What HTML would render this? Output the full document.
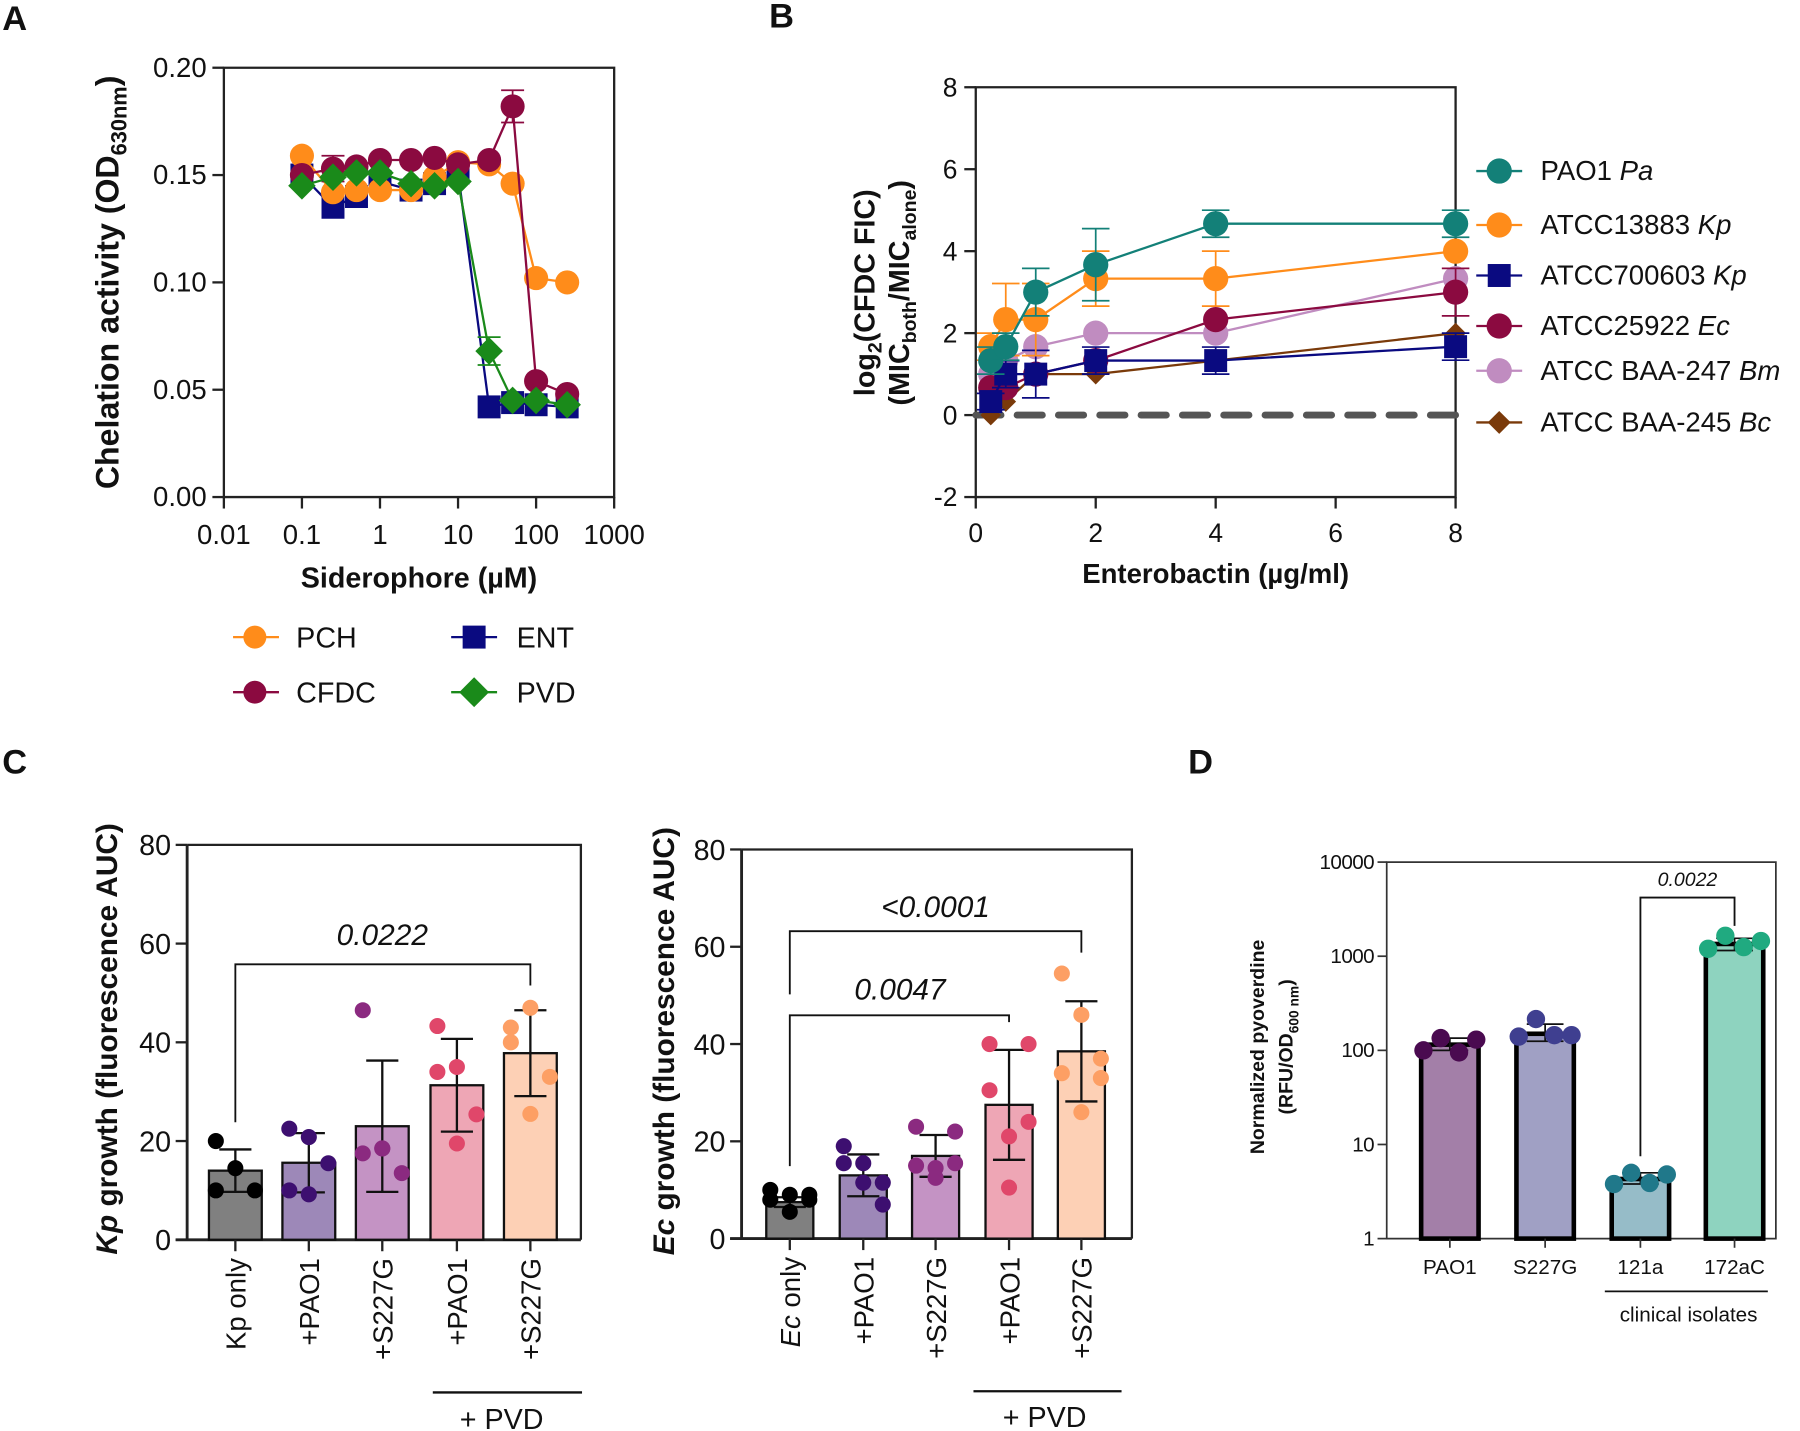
<!DOCTYPE html>
<html><head><meta charset="utf-8">
<style>
html,body{margin:0;padding:0;background:#fff;}
svg{display:block;font-family:"Liberation Sans",Arial,sans-serif;}
.t{font-size:22px;fill:#111;}
.bt{font-weight:bold;fill:#111;}
</style></head>
<body>
<svg id="fig" width="1800" height="1431" viewBox="0 0 1568 1246.6" xmlns="http://www.w3.org/2000/svg">
<rect x="0" y="0" width="1568" height="1247" fill="#fff"/>
<text x="2" y="26" font-size="30" class="bt">A</text>
<text x="670" y="24" font-size="30" class="bt">B</text>
<text x="2" y="674" font-size="30" class="bt">C</text>
<text x="1035" y="674" font-size="30" class="bt">D</text>

<g>
<path d="M195 59 H535 V433 H195 Z" fill="none" stroke="#222" stroke-width="2"/>
<text transform="translate(103,246) rotate(-90)" text-anchor="middle" font-size="28" class="bt">Chelation activity (OD<tspan font-size="19" dy="7">630nm</tspan><tspan dy="-7">)</tspan></text>
<text x="365" y="512" text-anchor="middle" font-size="25" class="bt">Siderophore (µM)</text>
<g id="gA"></g>
<g>
<line x1="203" y1="555" x2="243" y2="555" stroke="#ff8c1a" stroke-width="2"/><circle cx="222" cy="555" r="10" fill="#ff8c1a"/>
<text x="258" y="564" font-size="25" fill="#111">PCH</text>
<line x1="203" y1="603" x2="243" y2="603" stroke="#8b0a40" stroke-width="2"/><circle cx="222" cy="603" r="10" fill="#8b0a40"/>
<text x="258" y="612" font-size="25" fill="#111">CFDC</text>
<line x1="393" y1="555" x2="433" y2="555" stroke="#0a0a80" stroke-width="2"/><rect x="403" y="545" width="20" height="20" fill="#0a0a80"/>
<text x="450" y="564" font-size="25" fill="#111">ENT</text>
<line x1="393" y1="603" x2="433" y2="603" stroke="#1a8a1a" stroke-width="2"/><path d="M413 590 L426 603 L413 616 L400 603Z" fill="#1a8a1a"/>
<text x="450" y="612" font-size="25" fill="#111">PVD</text>
</g>
</g>

<g>
<path d="M850 76 H1268 V433 H850 Z" fill="none" stroke="#222" stroke-width="2"/>
<text transform="translate(762,255) rotate(-90)" text-anchor="middle" font-size="25" class="bt">log<tspan font-size="17" dy="6">2</tspan><tspan dy="-6">(CFDC FIC)</tspan></text>
<text transform="translate(792,255) rotate(-90)" text-anchor="middle" font-size="25" class="bt">(MIC<tspan font-size="17" dy="6">both</tspan><tspan dy="-6">/MIC</tspan><tspan font-size="17" dy="6">alone</tspan><tspan dy="-6">)</tspan></text>
<text x="1059" y="508" text-anchor="middle" font-size="24" class="bt">Enterobactin (µg/ml)</text>
<g id="gB"></g>
<g id="legB"></g>
</g>

<g>
<text transform="translate(102,905) rotate(-90)" text-anchor="middle" font-size="26" class="bt"><tspan font-style="italic">Kp</tspan> growth (fluorescence AUC)</text>
<text transform="translate(587,907) rotate(-90)" text-anchor="middle" font-size="26" class="bt"><tspan font-style="italic">Ec</tspan> growth (fluorescence AUC)</text>
<g id="gCL"></g>
<g id="gCR"></g>
<line x1="377" y1="1213" x2="507" y2="1213" stroke="#111" stroke-width="2"/>
<text x="437" y="1245" text-anchor="middle" font-size="25" fill="#111">+ PVD</text>
<line x1="848" y1="1212" x2="977" y2="1212" stroke="#111" stroke-width="2"/>
<text x="910" y="1243" text-anchor="middle" font-size="25" fill="#111">+ PVD</text>
</g>

<g>
<text transform="translate(1101,912) rotate(-90)" text-anchor="middle" font-size="17" class="bt">Normalized pyoverdine</text>
<text transform="translate(1126,912) rotate(-90)" text-anchor="middle" font-size="17" class="bt">(RFU/OD<tspan font-size="12" dy="5">600 nm</tspan><tspan dy="-5">)</tspan></text>
<g id="gD"></g>
<line x1="1398" y1="1125" x2="1540" y2="1125" stroke="#111" stroke-width="1.5"/>
<text x="1471" y="1151" text-anchor="middle" font-size="18" fill="#111">clinical isolates</text>
</g>
</svg>

<script>
const aConc = [0.1,0.25,0.5,1,2.5,5,10,25,50,100,250];
const aPCH  = [0.159,0.142,0.143,0.143,0.143,0.149,0.156,0.155,0.146,0.102,0.100];
const aCFDC = [0.150,0.153,0.154,0.157,0.157,0.158,0.155,0.157,0.182,0.054,0.048];
const aENT  = [0.150,0.135,0.140,0.147,0.143,0.146,0.151,0.042,0.044,0.043,0.042];
const aPVD  = [0.145,0.149,0.151,0.151,0.146,0.145,0.147,0.068,0.045,0.045,0.043];
const aCFDCerr = [0,0.006,0,0,0,0,0,0,0.0075,0,0];
const aPVDerr  = [0,0,0,0,0,0,0,0.0065,0,0,0];
const aXTicks = [0.01,0.1,1,10,100,1000];
const aXTickLabels = ["0.01","0.1","1","10","100","1000"];
const aYTicks = [0,0.05,0.10,0.15,0.20];
const aYTickLabels = ["0.00","0.05","0.10","0.15","0.20"];

const bX = [0.25,0.5,1,2,4,8];
const bPAO1  = [1.33,1.67,3.0,3.67,4.67,4.67];
const bKp13883 = [1.67,2.33,2.33,3.33,3.33,4.0];
const bKp700603 = [0.33,1.0,1.0,1.33,1.33,1.67];
const bEc    = [0.67,0.67,1.0,1.33,2.33,3.0];
const bBm    = [1.0,1.33,1.67,2.0,2.0,3.33];
const bBc    = [0.0,0.33,1.0,1.0,1.33,2.0];
const bPAO1err = [0.33,0.33,0.58,0.88,0.33,0.33];
const bKp13883err = [0.33,0.88,0.88,0.67,0.67,0];
const bKp700603err = [0.2,0.33,0.58,0.33,0.33,0.33];
const bEcErr = [0,0,0,0,0,0.58];
const bXTicks = [0,2,4,6,8];
const bYTicks = [-2,0,2,4,6,8];
const bSeriesNames = ["PAO1","ATCC13883","ATCC700603","ATCC25922","ATCC BAA-247","ATCC BAA-245"];
const bSeriesSpecies = ["Pa","Kp","Kp","Ec","Bm","Bc"];

const cCats = ["Kp only","+PAO1","+S227G","+PAO1","+S227G"];
const cEcCats = ["Ec only","+PAO1","+S227G","+PAO1","+S227G"];
const cKpMeans = [14.0,15.6,23.0,31.3,37.8];
const cKpSD    = [4.3,6.0,13.3,9.4,8.7];
const cKpPts = [[20,14.5,10,10],[22.5,9.2,15.5,10,20.8],[46.5,18.5,13.5,17.5,18.5],[34,19.5,25.4,43.3,35],[40,25.5,33,43,47]];
const cEcMeans = [7.5,13.0,17.0,27.5,38.5];
const cEcSD    = [1.0,4.3,4.3,11.3,10.3];
const cEcPts = [[8,9,9,10,5.5,8],[15.5,11.5,7,19,15.5,11.5],[15,12.5,22,23,14.5,15.5],[40,10.5,24,30.5,21,40],[34,26,37,54.5,46,33]];
const cYTicks = [0,20,40,60,80];

const dCats = ["PAO1","S227G","121a","172aC"];
const dMeans = [115,150,4.3,1350];
const dLo = [100,125,3.8,1150];
const dHi = [135,190,5.0,1550];
const dPts = [[100,135,95,130],[140,215,145,145],[3.8,5.0,3.9,4.8],[1200,1650,1250,1450]];
const dYTicks = [1,10,100,1000,10000];

const NS = "http://www.w3.org/2000/svg";
function mk(tag, attrs, parent){
  const e = document.createElementNS(NS, tag);
  for (const k in attrs) e.setAttribute(k, attrs[k]);
  parent.appendChild(e);
  return e;
}

const gA = document.getElementById('gA');
const ax = v => 195 + (Math.log10(v) + 2) * 68;
const ay = v => 433 - v / 0.2 * 374;
aXTicks.forEach((t,i)=>{
  const l = mk('line',{x1:ax(t),y1:433,x2:ax(t),y2:443,stroke:'#222','stroke-width':2},gA);
  
  
  const tx = mk('text',{x:ax(t),y:474,'text-anchor':'middle','font-size':24,fill:'#111'},gA);
  tx.textContent = aXTickLabels[i];
  
  
});
aYTicks.forEach((t,i)=>{
  const l = mk('line',{x1:185,y1:ay(t),x2:195,y2:ay(t),stroke:'#222','stroke-width':2},gA);
  
  
  const tx = mk('text',{x:180,y:ay(t)+8,'text-anchor':'end','font-size':24,fill:'#111'},gA);
  tx.textContent = aYTickLabels[i];
  
  
});
function drawA(vals, errs, color, shape, name){
  const g = mk('g',{},gA);
  
  
  const pts = vals.map((v,i)=>ax(aConc[i])+','+ay(v)).join(' ');
  mk('polyline',{points:pts,fill:'none',stroke:color,'stroke-width':2},g);
  vals.forEach((v,i)=>{
    const x = ax(aConc[i]), y = ay(v);
    if (errs && errs[i] > 0){
      const e = mk('path',{d:`M${x} ${ay(v-errs[i])}V${ay(v+errs[i])}M${x-10} ${ay(v-errs[i])}h20M${x-10} ${ay(v+errs[i])}h20`,stroke:color,'stroke-width':1.5,fill:'none'},g);
      
      
    }
    let m;
    if (shape==='circle') m = mk('circle',{cx:x,cy:y,r:10.5,fill:color},g);
    else if (shape==='square') m = mk('rect',{x:x-10,y:y-10,width:20,height:20,fill:color},g);
    else m = mk('path',{d:`M${x} ${y-12}L${x+12} ${y}L${x} ${y+12}L${x-12} ${y}Z`,fill:color},g);
    
    
  });
}
drawA(aENT,null,'#0a0a80','square','ent');
drawA(aPCH,null,'#ff8c1a','circle','pch');
drawA(aCFDC,aCFDCerr,'#8b0a40','circle','cfdc');
drawA(aPVD,aPVDerr,'#1a8a1a','diamond','pvd');

const gB = document.getElementById('gB');
const bx = v => 850 + v * 52.25;
const by = v => 433 - (v + 2) * 35.7;
bXTicks.forEach(t=>{
  const l = mk('line',{x1:bx(t),y1:433,x2:bx(t),y2:443,stroke:'#222','stroke-width':2},gB);
  
  
  const tx = mk('text',{x:bx(t),y:472,'text-anchor':'middle','font-size':23,fill:'#111'},gB);
  tx.textContent = String(t);
  
  
});
bYTicks.forEach(t=>{
  const l = mk('line',{x1:840,y1:by(t),x2:850,y2:by(t),stroke:'#222','stroke-width':2},gB);
  
  
  const tx = mk('text',{x:834,y:by(t)+8,'text-anchor':'end','font-size':23,fill:'#111'},gB);
  tx.textContent = String(t);
  
  
});
const zl = mk('line',{x1:bx(0),y1:by(0),x2:bx(8),y2:by(0),stroke:'#555','stroke-width':6,'stroke-dasharray':'22 14','stroke-linecap':'round'},gB);


function drawB(vals, errs, color, shape, name){
  const g = mk('g',{},gB);
  
  
  mk('polyline',{points:vals.map((v,i)=>bx(bX[i])+','+by(v)).join(' '),fill:'none',stroke:color,'stroke-width':2},g);
  vals.forEach((v,i)=>{
    const x = bx(bX[i]), y = by(v);
    if (errs && errs[i] > 0){
      const e = mk('path',{d:`M${x} ${by(v-errs[i])}V${by(v+errs[i])}M${x-12} ${by(v-errs[i])}h24M${x-12} ${by(v+errs[i])}h24`,stroke:color,'stroke-width':1.5,fill:'none'},g);
      
      
    }
    let m;
    if (shape==='circle') m = mk('circle',{cx:x,cy:y,r:11,fill:color},g);
    else if (shape==='square') m = mk('rect',{x:x-10,y:y-10,width:20,height:20,fill:color},g);
    else m = mk('path',{d:`M${x} ${y-9}L${x+9} ${y}L${x} ${y+9}L${x-9} ${y}Z`,fill:color},g);
    
    
  });
}
const bColors = ['#138078','#ff8c1a','#0a0a80','#8b0a40','#c08cc0','#7a3a0a'];
const bShapes = ['circle','circle','square','circle','circle','diamond'];
drawB(bBc,null,bColors[5],'diamond','bc');
drawB(bBm,null,bColors[4],'circle','bm');
drawB(bEc,bEcErr,bColors[3],'circle','ec');
drawB(bKp700603,bKp700603err,bColors[2],'square','kp700603');
drawB(bKp13883,bKp13883err,bColors[1],'circle','kp13883');
drawB(bPAO1,bPAO1err,bColors[0],'circle','pao1');
const legB = document.getElementById('legB');
const legY = [149,196,240,284,323,368];
bSeriesNames.forEach((n,i)=>{
  const y = legY[i];
  mk('line',{x1:1286,y1:y,x2:1326,y2:y,stroke:bColors[i],'stroke-width':2},legB);
  let m;
  if (bShapes[i]==='circle') m = mk('circle',{cx:1306,cy:y,r:11,fill:bColors[i]},legB);
  else if (bShapes[i]==='square') m = mk('rect',{x:1296,y:y-10,width:20,height:20,fill:bColors[i]},legB);
  else m = mk('path',{d:`M1306 ${y-10}L1316 ${y}L1306 ${y+10}L1296 ${y}Z`,fill:bColors[i]},legB);
  
  
  const t = mk('text',{x:1342,y:y+8,'font-size':24,fill:'#111'},legB);
  t.textContent = n + ' ';
  const it = mk('tspan',{'font-style':'italic'},t);
  it.textContent = bSeriesSpecies[i];
  
  
});

const cBarColors = ['#808080','#9d88b8','#c493c4','#eea6b5','#fdd0b5'];
const cDotColors = ['#000000','#3d0f70','#8b2a80','#e0476a','#fd9f64'];
function drawBarPanel(gid, left, right, y0, ppu, centers, bw, means, sds, pts, cats, italicFirst, tag){
  const g = document.getElementById(gid);
  const y = v => y0 - v * ppu;
  mk('path',{d:`M${left} ${y(80)}H${right}V${y0}`,fill:'none',stroke:'#222','stroke-width':2},g);
  mk('line',{x1:left,y1:y(80),x2:left,y2:y0,stroke:'#222','stroke-width':2.5},g);
  mk('line',{x1:left-10,y1:y0,x2:right,y2:y0,stroke:'#222','stroke-width':2.5},g);
  cYTicks.forEach(t=>{
    const l = mk('line',{x1:left-10,y1:y(t),x2:left,y2:y(t),stroke:'#222','stroke-width':2},g);
    
    
    const tx = mk('text',{x:left-14,y:y(t)+9,'text-anchor':'end','font-size':25,fill:'#111'},g);
    tx.textContent = String(t);
    
    
  });
  means.forEach((m,i)=>{
    const cx = centers[i];
    const b = mk('rect',{x:cx-bw/2,y:y(m),width:bw,height:y0-y(m),fill:cBarColors[i],stroke:'#111','stroke-width':2},g);
    
    
    const e = mk('path',{d:`M${cx} ${y(m-sds[i])}V${y(m+sds[i])}M${cx-14} ${y(m-sds[i])}h28M${cx-14} ${y(m+sds[i])}h28`,stroke:'#111','stroke-width':2,fill:'none'},g);
    
    
    pts[i].forEach((p,j)=>{
      const off = ((j % 3) - 1) * 17;
      const d = mk('circle',{cx:cx+off,cy:y(p),r:7,fill:cDotColors[i]},g);
      
      
    });
    mk('line',{x1:cx,y1:y0,x2:cx,y2:y0+10,stroke:'#222','stroke-width':2},g);
    const t = mk('text',{transform:`translate(${cx+9},${y0+16}) rotate(-90)`,'text-anchor':'end','font-size':24,fill:'#111'},g);
    if (i===0 && italicFirst){
      const a = mk('tspan',{'font-style':'italic'},t); a.textContent = cats[i].slice(0,2);
      const b2 = mk('tspan',{},t); b2.textContent = cats[i].slice(2);
    } else t.textContent = cats[i];
    
    
  });
  return y;
}
function bracket(gid, x1, x2, yTop, yL, yR, label, lx, ly, fs){
  const g = document.getElementById(gid);
  const p = mk('path',{d:`M${x1} ${yL}V${yTop}H${x2}V${yR}`,fill:'none',stroke:'#111','stroke-width':1.6},g);
  
  
  const t = mk('text',{x:lx,y:ly,'text-anchor':'middle','font-size':fs,'font-style':'italic',fill:'#111'},g);
  t.textContent = label;
  
  
}
const cLCenters = [205,269,333,398,462];
const yKp = drawBarPanel('gCL',163,506,1080,4.3,cLCenters,46,cKpMeans,cKpSD,cKpPts,cCats,false,'kp');
bracket('gCL',205,462,yKp(55.8),yKp(23.8),yKp(51.5),'0.0222',333,yKp(62)+10,26);
const cRCenters = [688,752,815,879,942];
const yEc = drawBarPanel('gCR',646,986,1079,4.2375,cRCenters,41,cEcMeans,cEcSD,cEcPts,cEcCats,true,'ec');
bracket('gCR',688,942,yEc(63.2),yEc(50.2),yEc(58.8),'<0.0001',815,yEc(68.5)+10,26);
bracket('gCR',688,879,yEc(45.9),yEc(14.9),yEc(44.5),'0.0047',784,yEc(51.5)+10,26);

const gD = document.getElementById('gD');
const dBarColors = ['#a37fa8','#a0a0c4','#96bcc8','#8ed3bf'];
const dDotColors = ['#4a0a50','#3f3f90','#20788a','#20aa80'];
const dCenters = [1263,1346,1429,1511];
const dy = v => 1079 - Math.log10(v) * 82;
mk('path',{d:`M1208 ${dy(10000)}H1547V1079H1208Z`,fill:'none',stroke:'#333','stroke-width':1.5},gD);
dYTicks.forEach(t=>{
  const l = mk('line',{x1:1200,y1:dy(t),x2:1208,y2:dy(t),stroke:'#333','stroke-width':1.5},gD);
  
  
  const tx = mk('text',{x:1197,y:dy(t)+6,'text-anchor':'end','font-size':18,fill:'#111','letter-spacing':'-0.5'},gD);
  tx.textContent = String(t);
  
  
});
dMeans.forEach((m,i)=>{
  const cx = dCenters[i];
  const b = mk('rect',{x:cx-25,y:dy(m),width:50,height:1079-dy(m),fill:dBarColors[i],stroke:'#000','stroke-width':4},gD);
  
  
  const e = mk('path',{d:`M${cx} ${dy(dLo[i])}V${dy(dHi[i])}M${cx-16} ${dy(dLo[i])}h32M${cx-16} ${dy(dHi[i])}h32`,stroke:'#111','stroke-width':1.5,fill:'none'},gD);
  
  
  const offs = [-23,-8,8,23];
  dPts[i].forEach((p,j)=>{
    const d = mk('circle',{cx:cx+offs[j],cy:dy(p),r:8,fill:dDotColors[i]},gD);
    
    
  });
  mk('line',{x1:cx,y1:1079,x2:cx,y2:1087,stroke:'#333','stroke-width':1.5},gD);
  const t = mk('text',{x:cx,y:1110,'text-anchor':'middle','font-size':18,fill:'#111'},gD);
  t.textContent = dCats[i];
  
  
});
bracket('gD',1429,1511,dy(4200),dy(7.5),dy(2100),'0.0022',1470,dy(4200)-10,17);
</script>
</body></html>
